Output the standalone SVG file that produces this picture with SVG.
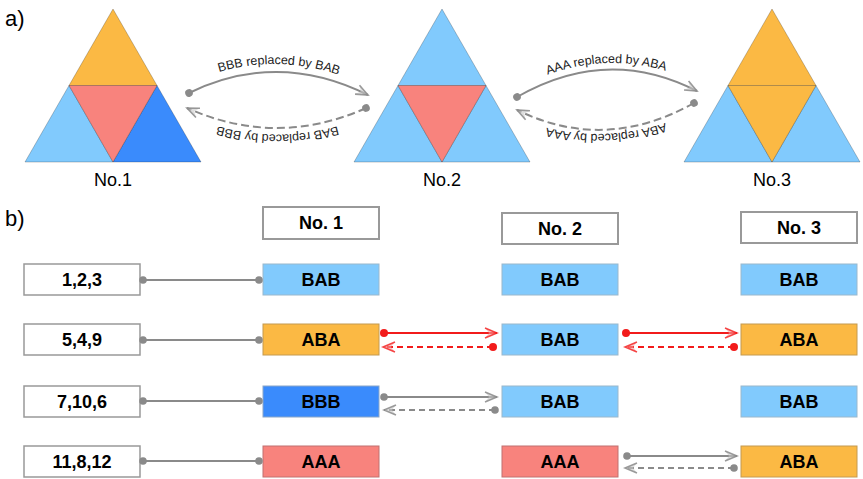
<svg xmlns="http://www.w3.org/2000/svg" xmlns:xlink="http://www.w3.org/1999/xlink" width="863" height="479" viewBox="0 0 863 479">
  <style>
    text { font-family: "Liberation Sans", Arial, sans-serif; fill: #000; }
    .lbl { font-size: 22px; }
    .tri-name { font-size: 18px; text-anchor: middle; }
    .arc-text { font-size: 12.5px; fill: #222; }
    .box-text { font-size: 18px; font-weight: bold; text-anchor: middle; dominant-baseline: central; }
    .tri use { stroke: rgba(0,0,0,0.28); stroke-width: 0.8; }
    .orange { fill: #FBB944; }
    .lblue { fill: #81CAFD; }
    .dblue { fill: #3A8BFC; }
    .salmon { fill: #F8837D; }
    .head { fill: #fff; stroke: #999; stroke-width: 2; }
    .key { fill: #fff; stroke: #999; stroke-width: 1.5; }
    .cell { stroke-width: 1; }
    .cell.lblue { stroke: #9ab8cc; }
    .cell.dblue { stroke: #8aa6c8; }
    .cell.salmon { stroke: #c07070; }
    .cell.orange { stroke: #c49a50; }
    .g-solid { fill: none; stroke: #8a8a8a; stroke-width: 2; }
    .g-dash { fill: none; stroke: #8a8a8a; stroke-width: 2; stroke-dasharray: 6 4; }
    .g-arc-dash { fill: none; stroke: #8a8a8a; stroke-width: 2; stroke-dasharray: 8 4; }
    .r-solid { fill: none; stroke: #F21B1B; stroke-width: 2; }
    .r-dash { fill: none; stroke: #F21B1B; stroke-width: 2; stroke-dasharray: 6 4; }
  </style>
  <defs>
    <!-- triangle split into four sub-triangles, local coords -->
    <path id="t-top" d="M88,9 L44,85.5 L132,85.5 Z"/>
    <path id="t-left" d="M44,85.5 L0,162 L88,162 Z"/>
    <path id="t-right" d="M132,85.5 L88,162 L176,162 Z"/>
    <path id="t-mid" d="M44,85.5 L132,85.5 L88,162 Z"/>
    <marker id="dot-g" markerUnits="userSpaceOnUse" markerWidth="10" markerHeight="10" viewBox="0 0 10 10" refX="5" refY="5" orient="auto">
      <circle cx="5" cy="5" r="3.8" fill="#8a8a8a"/>
    </marker>
    <marker id="dot-r" markerUnits="userSpaceOnUse" markerWidth="10" markerHeight="10" viewBox="0 0 10 10" refX="5" refY="5" orient="auto">
      <circle cx="5" cy="5" r="4" fill="#F21B1B"/>
    </marker>
    <marker id="open-g" markerUnits="userSpaceOnUse" markerWidth="16" markerHeight="14" viewBox="0 0 16 14" refX="14" refY="7" orient="auto">
      <path d="M14,7 L2,2 L6,7 L2,12 Z" fill="#c8c8c8" fill-opacity="0.6"/>
      <path d="M2,2 L14,7 L2,12" fill="none" stroke="#8a8a8a" stroke-width="1.6" stroke-opacity="0.85"/>
    </marker>
    <marker id="open-r" markerUnits="userSpaceOnUse" markerWidth="16" markerHeight="14" viewBox="0 0 16 14" refX="14" refY="7" orient="auto">
      <path d="M14,7 L2,2 L6,7 L2,12 Z" fill="#f6a0a0" fill-opacity="0.6"/>
      <path d="M2,2 L14,7 L2,12" fill="none" stroke="#F21B1B" stroke-width="1.6" stroke-opacity="0.8"/>
    </marker>
    <!-- baselines for the curved labels -->
    <path id="tp1" d="M183,86 Q278,40 374,90"/>
    <path id="tp2" d="M374,113 Q277,156 181,113"/>
    <path id="tp3" d="M511,92 Q607,37 703,86"/>
    <path id="tp4" d="M702,108 Q605,156 509,115"/>
  </defs>

  <rect width="863" height="479" fill="#fff"/>

  <!-- part a) -->
  <text class="lbl" x="5" y="26">a)</text>

  <g id="tri-no1" class="tri" transform="translate(25,0)">
    <use href="#t-top" class="orange"/>
    <use href="#t-left" class="lblue"/>
    <use href="#t-right" class="dblue"/>
    <use href="#t-mid" class="salmon"/>
  </g>
  <g id="tri-no2" class="tri" transform="translate(354,0)">
    <use href="#t-top" class="lblue"/>
    <use href="#t-left" class="lblue"/>
    <use href="#t-right" class="lblue"/>
    <use href="#t-mid" class="salmon"/>
  </g>
  <g id="tri-no3" class="tri" transform="translate(684,0)">
    <use href="#t-top" class="orange"/>
    <use href="#t-left" class="lblue"/>
    <use href="#t-right" class="lblue"/>
    <use href="#t-mid" class="orange"/>
  </g>

  <g id="tri-labels">
    <text class="tri-name" x="113" y="186">No.1</text>
    <text class="tri-name" x="442" y="186">No.2</text>
    <text class="tri-name" x="772" y="186">No.3</text>
  </g>

  <g id="arc-connectors">
    <path class="g-solid" d="M189,93 Q278,50 368,95" marker-start="url(#dot-g)" marker-end="url(#open-g)"/>
    <path class="g-arc-dash" d="M366,108 Q277,148 187,108" marker-start="url(#dot-g)" marker-end="url(#open-g)"/>
    <path class="g-solid" d="M517,97 Q607,45 697,91" marker-start="url(#dot-g)" marker-end="url(#open-g)"/>
    <path class="g-arc-dash" d="M694,103 Q605,153 517,110" marker-start="url(#dot-g)" marker-end="url(#open-g)"/>
    <text class="arc-text"><textPath href="#tp1" startOffset="50%" text-anchor="middle">BBB replaced by BAB</textPath></text>
    <text class="arc-text"><textPath href="#tp2" startOffset="50%" text-anchor="middle">BAB replaced by BBB</textPath></text>
    <text class="arc-text"><textPath href="#tp3" startOffset="50%" text-anchor="middle">AAA replaced by ABA</textPath></text>
    <text class="arc-text"><textPath href="#tp4" startOffset="50%" text-anchor="middle">ABA replaced by AAA</textPath></text>
  </g>

  <!-- part b) -->
  <text class="lbl" x="5" y="226">b)</text>

  <g id="head-no1"><rect class="head" x="263" y="207" width="116" height="32"/><text class="box-text" x="321" y="223">No. 1</text></g>
  <g id="head-no2"><rect class="head" x="502" y="213" width="116" height="31"/><text class="box-text" x="560" y="228.5">No. 2</text></g>
  <g id="head-no3"><rect class="head" x="741" y="212" width="116" height="31"/><text class="box-text" x="799" y="227.5">No. 3</text></g>

  <g id="key-123"><rect class="key" x="24" y="264" width="116" height="31"/><text class="box-text" x="82" y="280">1,2,3</text></g>
  <g id="key-549"><rect class="key" x="24" y="324" width="116" height="31"/><text class="box-text" x="82" y="340">5,4,9</text></g>
  <g id="key-7106"><rect class="key" x="24" y="386" width="116" height="31"/><text class="box-text" x="82" y="402">7,10,6</text></g>
  <g id="key-11812"><rect class="key" x="24" y="446" width="116" height="31"/><text class="box-text" x="82" y="462">11,8,12</text></g>

  <g id="c1-r1"><rect class="cell lblue" x="263" y="264" width="116" height="31"/><text class="box-text" x="321" y="280">BAB</text></g>
  <g id="c1-r2"><rect class="cell orange" x="263" y="324" width="116" height="31"/><text class="box-text" x="321" y="340">ABA</text></g>
  <g id="c1-r3"><rect class="cell dblue" x="263" y="386" width="116" height="31"/><text class="box-text" x="321" y="402">BBB</text></g>
  <g id="c1-r4"><rect class="cell salmon" x="263" y="446" width="116" height="31"/><text class="box-text" x="321" y="462">AAA</text></g>

  <g id="c2-r1"><rect class="cell lblue" x="502" y="264" width="116" height="31"/><text class="box-text" x="560" y="280">BAB</text></g>
  <g id="c2-r2"><rect class="cell lblue" x="502" y="324" width="116" height="31"/><text class="box-text" x="560" y="340">BAB</text></g>
  <g id="c2-r3"><rect class="cell lblue" x="502" y="386" width="116" height="31"/><text class="box-text" x="560" y="402">BAB</text></g>
  <g id="c2-r4"><rect class="cell salmon" x="502" y="446" width="116" height="31"/><text class="box-text" x="560" y="462">AAA</text></g>

  <g id="c3-r1"><rect class="cell lblue" x="741" y="264" width="116" height="31"/><text class="box-text" x="799" y="280">BAB</text></g>
  <g id="c3-r2"><rect class="cell orange" x="741" y="324" width="116" height="31"/><text class="box-text" x="799" y="340">ABA</text></g>
  <g id="c3-r3"><rect class="cell lblue" x="741" y="386" width="116" height="31"/><text class="box-text" x="799" y="402">BAB</text></g>
  <g id="c3-r4"><rect class="cell orange" x="741" y="446" width="116" height="31"/><text class="box-text" x="799" y="462">ABA</text></g>

  <g id="row-connectors">
    <path class="g-solid" d="M143,280 H259" marker-start="url(#dot-g)" marker-end="url(#dot-g)"/>
    <path class="g-solid" d="M143,340 H259" marker-start="url(#dot-g)" marker-end="url(#dot-g)"/>
    <path class="g-solid" d="M143,401 H259" marker-start="url(#dot-g)" marker-end="url(#dot-g)"/>
    <path class="g-solid" d="M143,461 H259" marker-start="url(#dot-g)" marker-end="url(#dot-g)"/>

    <path class="r-solid" d="M384,333 H497" marker-start="url(#dot-r)" marker-end="url(#open-r)"/>
    <path class="r-dash" d="M493,347 H383" marker-start="url(#dot-r)" marker-end="url(#open-r)"/>
    <path class="r-solid" d="M626,333 H737" marker-start="url(#dot-r)" marker-end="url(#open-r)"/>
    <path class="r-dash" d="M734,347 H625" marker-start="url(#dot-r)" marker-end="url(#open-r)"/>

    <path class="g-solid" d="M384,397 H497" marker-start="url(#dot-g)" marker-end="url(#open-g)"/>
    <path class="g-dash" d="M495,410 H384" marker-start="url(#dot-g)" marker-end="url(#open-g)"/>
    <path class="g-solid" d="M627,456 H737" marker-start="url(#dot-g)" marker-end="url(#open-g)"/>
    <path class="g-dash" d="M734,468 H625" marker-start="url(#dot-g)" marker-end="url(#open-g)"/>
  </g>
</svg>
